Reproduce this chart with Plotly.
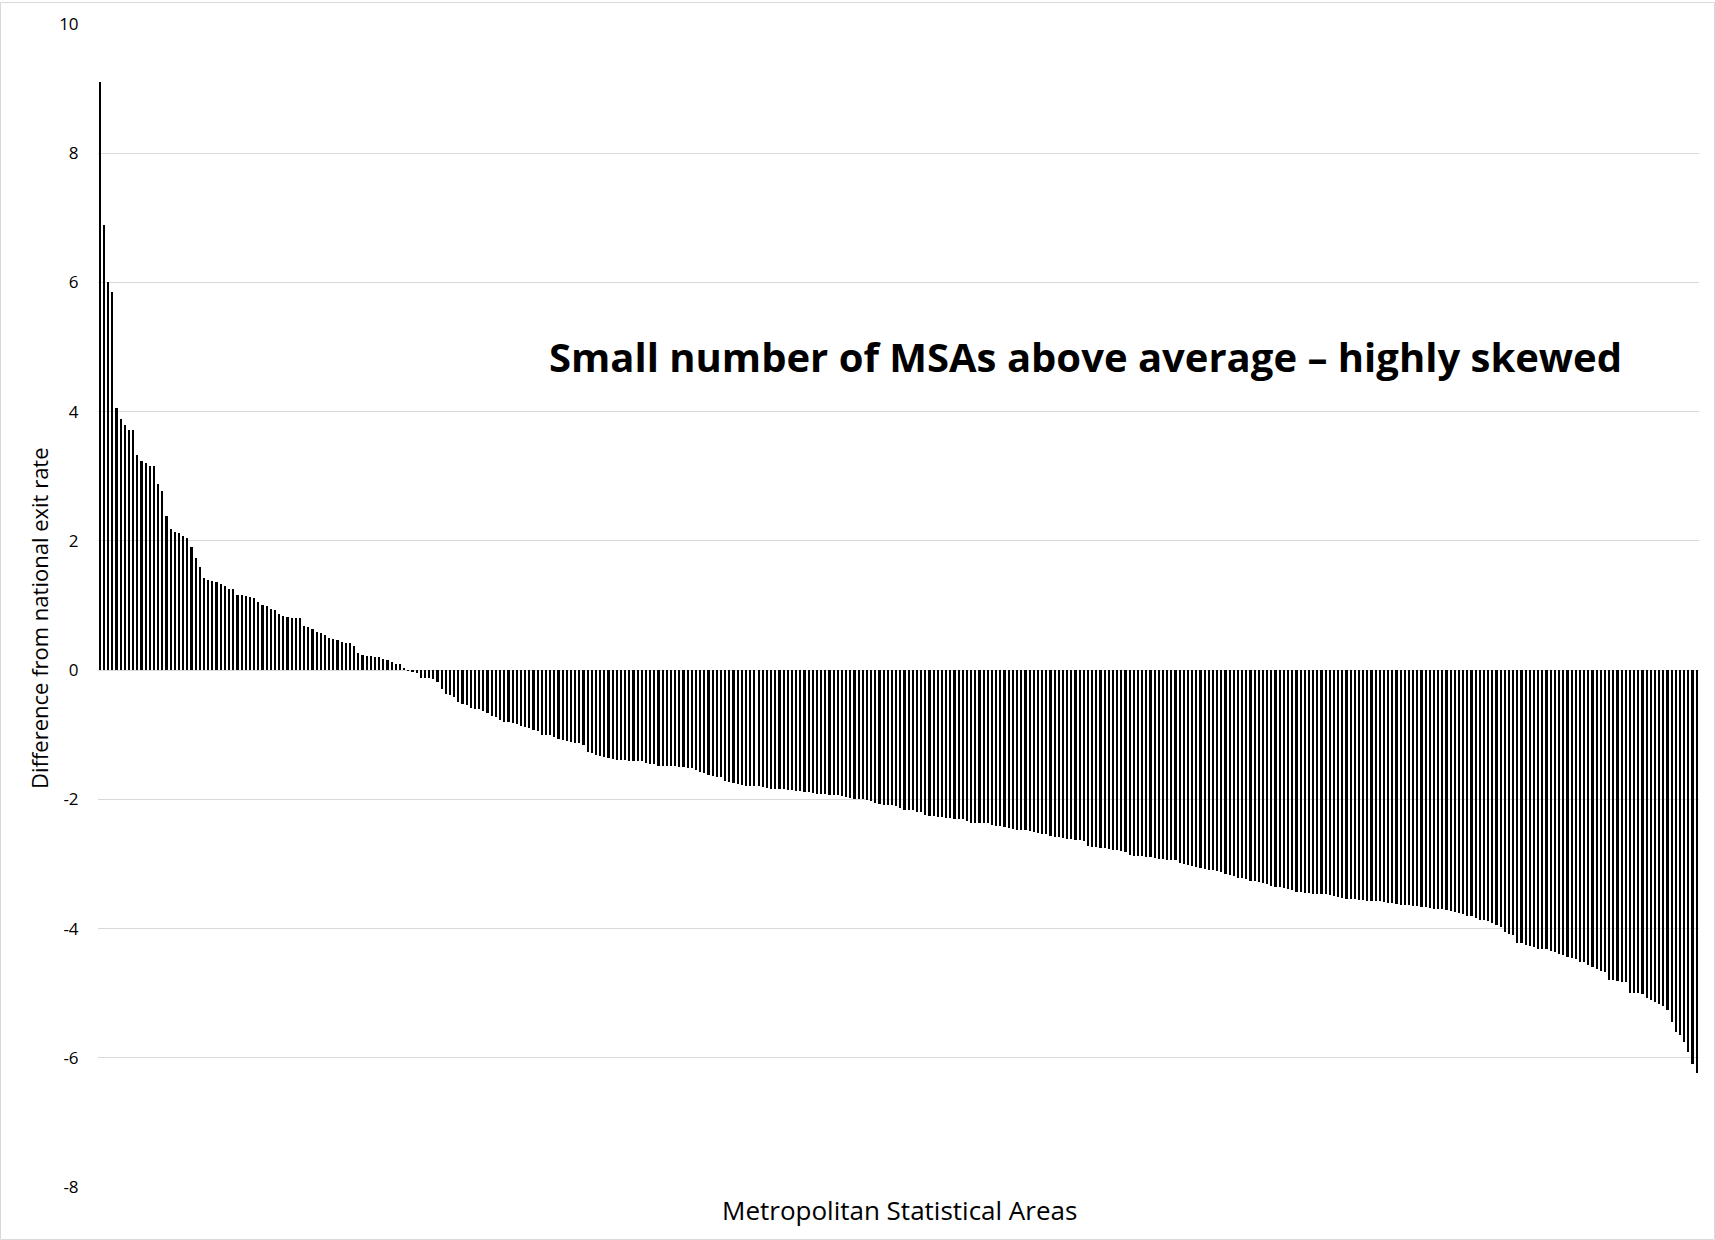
import plotly.graph_objects as go

# ---- data (sorted descending) ----
exit_rate_diff = [
    9.11, 6.89, 6.01, 5.85, 4.06, 3.88, 3.79, 3.71, 3.71, 3.33,
    3.23, 3.21, 3.16, 3.16, 2.88, 2.77, 2.38, 2.19, 2.13, 2.12,
    2.08, 2.05, 1.90, 1.73, 1.59, 1.43, 1.39, 1.38, 1.36, 1.34,
    1.30, 1.25, 1.25, 1.16, 1.16, 1.15, 1.13, 1.11, 1.06, 1.01,
    0.99, 0.95, 0.93, 0.87, 0.84, 0.82, 0.80, 0.80, 0.80, 0.69,
    0.66, 0.63, 0.59, 0.58, 0.54, 0.50, 0.48, 0.46, 0.43, 0.42,
    0.42, 0.37, 0.27, 0.24, 0.22, 0.22, 0.21, 0.20, 0.17, 0.16,
    0.13, 0.10, 0.10, 0.04, -0.01, -0.02, -0.05, -0.12, -0.12, -0.12,
    -0.13, -0.18, -0.29, -0.37, -0.39, -0.42, -0.50, -0.52, -0.54, -0.59,
    -0.60, -0.60, -0.64, -0.67, -0.71, -0.73, -0.77, -0.81, -0.81, -0.82,
    -0.84, -0.86, -0.88, -0.90, -0.93, -0.94, -1.00, -1.00, -1.01, -1.04,
    -1.07, -1.08, -1.09, -1.12, -1.13, -1.13, -1.16, -1.26, -1.29, -1.32,
    -1.33, -1.35, -1.36, -1.37, -1.39, -1.39, -1.39, -1.40, -1.40, -1.41,
    -1.41, -1.43, -1.45, -1.46, -1.48, -1.48, -1.48, -1.48, -1.49, -1.50,
    -1.50, -1.51, -1.51, -1.55, -1.57, -1.60, -1.63, -1.64, -1.65, -1.66,
    -1.71, -1.73, -1.74, -1.76, -1.78, -1.79, -1.80, -1.80, -1.80, -1.81,
    -1.83, -1.84, -1.84, -1.84, -1.84, -1.85, -1.86, -1.87, -1.87, -1.88,
    -1.89, -1.90, -1.91, -1.91, -1.92, -1.93, -1.93, -1.94, -1.95, -1.96,
    -1.98, -1.99, -1.99, -2.00, -2.01, -2.03, -2.05, -2.07, -2.08, -2.08,
    -2.09, -2.10, -2.13, -2.16, -2.16, -2.16, -2.19, -2.20, -2.25, -2.26,
    -2.26, -2.27, -2.28, -2.29, -2.29, -2.30, -2.30, -2.31, -2.33, -2.36,
    -2.36, -2.36, -2.37, -2.37, -2.39, -2.41, -2.42, -2.43, -2.44, -2.46,
    -2.47, -2.47, -2.48, -2.49, -2.50, -2.52, -2.53, -2.54, -2.56, -2.58,
    -2.59, -2.60, -2.61, -2.62, -2.63, -2.63, -2.65, -2.72, -2.73, -2.74,
    -2.75, -2.76, -2.77, -2.78, -2.79, -2.80, -2.82, -2.86, -2.87, -2.87,
    -2.88, -2.89, -2.90, -2.91, -2.92, -2.93, -2.94, -2.94, -2.94, -2.99,
    -3.00, -3.02, -3.03, -3.05, -3.07, -3.08, -3.09, -3.10, -3.11, -3.13,
    -3.15, -3.17, -3.19, -3.21, -3.22, -3.24, -3.26, -3.27, -3.28, -3.29,
    -3.31, -3.34, -3.35, -3.36, -3.37, -3.38, -3.41, -3.43, -3.44, -3.45,
    -3.45, -3.46, -3.46, -3.47, -3.47, -3.48, -3.50, -3.51, -3.53, -3.54,
    -3.55, -3.55, -3.56, -3.56, -3.57, -3.57, -3.58, -3.58, -3.59, -3.60,
    -3.61, -3.62, -3.63, -3.64, -3.64, -3.65, -3.65, -3.66, -3.67, -3.68,
    -3.69, -3.69, -3.70, -3.72, -3.73, -3.74, -3.76, -3.78, -3.80, -3.81,
    -3.83, -3.86, -3.86, -3.88, -3.92, -3.95, -3.98, -4.05, -4.08, -4.10,
    -4.22, -4.23, -4.25, -4.27, -4.28, -4.31, -4.32, -4.32, -4.34, -4.36,
    -4.39, -4.41, -4.44, -4.46, -4.47, -4.51, -4.52, -4.57, -4.59, -4.62,
    -4.65, -4.67, -4.79, -4.80, -4.81, -4.82, -4.83, -5.00, -5.00, -5.00,
    -5.02, -5.08, -5.10, -5.13, -5.17, -5.20, -5.26, -5.44, -5.60, -5.65,
    -5.75, -5.91, -6.09, -6.24,
]
msa_index = list(range(len(exit_rate_diff)))

y_tick_values = [10, 8, 6, 4, 2, 0, -2, -4, -6, -8]
y_tick_labels = ["10", "8", "6", "4", "2", "0", "-2", "-4", "-6", "-8"]

title_text = "Small number of MSAs above average \u2013 highly skewed"
x_title = "Metropolitan Statistical Areas"
y_title = "Difference from national exit rate"

FONT = "Open Sans"
GRID = "#d9d9d9"

fig = go.Figure(
    go.Bar(
        x=msa_index,
        y=exit_rate_diff,
        width=0.4,
        marker=dict(color="#000000", line=dict(width=0)),
        hoverinfo="y",
    )
)

W, H = 1715, 1240
L, R, T, B = 98, 16, 22, 53

fig.update_layout(
    width=W,
    height=H,
    margin=dict(l=L, r=R, t=T, b=B, pad=0),
    paper_bgcolor="white",
    plot_bgcolor="white",
    showlegend=False,
    bargap=0,
    font=dict(family=FONT, color="#000000"),
)

fig.update_xaxes(
    range=[-0.5, len(exit_rate_diff) - 0.5],
    showticklabels=False,
    showgrid=False,
    zeroline=False,
    showline=False,
    ticks="",
)
fig.update_yaxes(
    range=[-8, 10],
    tickvals=y_tick_values,
    ticktext=y_tick_labels,
    tickfont=dict(family=FONT, size=17, color="#000000"),
    showgrid=True,
    gridcolor=GRID,
    gridwidth=1,
    zeroline=True,
    zerolinecolor=GRID,
    zerolinewidth=1,
    showline=False,
    ticks="outside",
    ticklen=15,
    tickcolor="rgba(0,0,0,0)",
)

pw = W - L - R
ph = H - T - B

# axis titles
fig.add_annotation(
    text=x_title, xref="paper", yref="paper",
    x=(899 - L) / pw, y=-(1210 - (H - B)) / ph,
    showarrow=False, xanchor="center", yanchor="middle",
    font=dict(family=FONT, size=26, color="#000000"),
)
fig.add_annotation(
    text=y_title, xref="paper", yref="paper",
    x=(39 - L) / pw, y=(H - B - 617) / ph,
    showarrow=False, xanchor="center", yanchor="middle", textangle=-90,
    font=dict(family=FONT, size=22, color="#000000"),
)
# headline
fig.add_annotation(
    text="<b>" + title_text + "</b>", xref="paper", yref="paper",
    x=(1085 - L) / pw, y=(H - B - 355) / ph,
    showarrow=False, xanchor="center", yanchor="middle",
    font=dict(family=FONT, size=40, color="#000000"),
)

# chart-area border
fig.add_shape(
    type="rect", xref="paper", yref="paper",
    x0=(0.5 - L) / pw, x1=(W - 0.5 - L) / pw,
    y0=-(B - 0.5) / ph, y1=(ph + T - 0.5) / ph,
    line=dict(color=GRID, width=1), fillcolor="rgba(0,0,0,0)", layer="below",
)

fig.write_html(
    "out.html",
    config={"displayModeBar": False},
    post_script="document.body.style.margin='0px';",
)
